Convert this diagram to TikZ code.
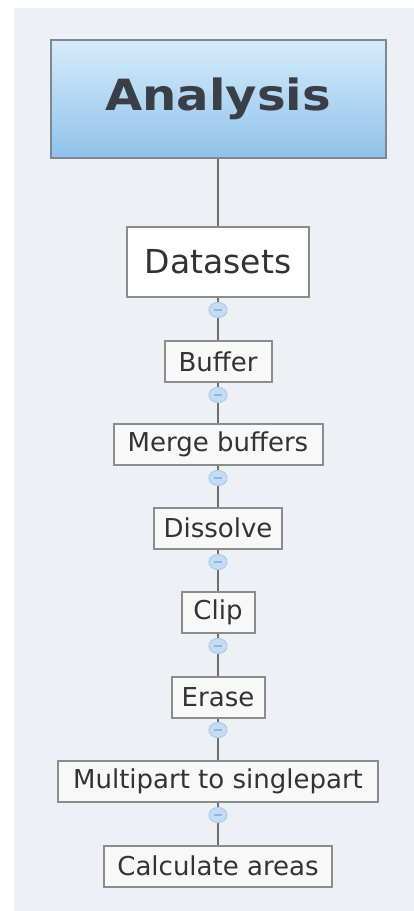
\documentclass[tikz,border=0pt]{standalone}
\usepackage{fontspec}
\setmainfont{DejaVu Sans}
\usetikzlibrary{shadings,shapes.geometric}
\definecolor{pagebg}{HTML}{EDF0F5}
\definecolor{boxline}{HTML}{8C8C8C}
\definecolor{boxfill}{HTML}{F8F8F8}
\definecolor{linkline}{HTML}{6E6E6E}
\definecolor{txt}{HTML}{333333}
\definecolor{roottxt}{HTML}{3A3F47}
\definecolor{roottop}{HTML}{D6ECFA}
\definecolor{rootbot}{HTML}{8FC2EA}
\definecolor{rootline}{HTML}{7D8894}
\definecolor{knobfill}{HTML}{C4DCF4}
\definecolor{knobline}{HTML}{B3CDEA}
\definecolor{knobmark}{HTML}{93B6DC}
\tikzset{
  rootbox/.style={draw=rootline, line width=2pt, top color=roottop, bottom color=rootbot,
    minimum width=335pt, minimum height=118pt, inner sep=0pt, text=roottxt},
  topicbox/.style={draw=boxline, line width=2pt, fill=white,
    minimum width=182pt, minimum height=70pt, inner sep=0pt, text=txt,
    font=\fontsize{33}{38}\selectfont},
  stepbox/.style={draw=boxline, line width=2pt, fill=boxfill,
    minimum height=41pt, inner sep=0pt, text=txt,
    font=\fontsize{26}{30}\selectfont},
  knob/.style={ellipse, draw=knobline, line width=1.2pt, fill=knobfill,
    minimum width=18pt, minimum height=15pt, inner sep=0pt},
  link/.style={draw=linkline, line width=1.6pt}
}
\begin{document}
\begin{tikzpicture}[x=1pt, y=-1pt]
  \useasboundingbox (0,0) rectangle (413,911);
  % page background, run past the page edge on the right and bottom
  \fill[white] (0,0) rectangle (440,940);
  \fill[pagebg] (14,8) rectangle (440,940);

  % nodes
  \node[rootbox] (analysis) at (218,99)
    {\scalebox{1.12}[1]{\fontsize{43}{48}\selectfont\bfseries Analysis}};
  \node[topicbox] (datasets) at (218,262) {Datasets};
  \node[stepbox, minimum width=107pt] (buffer)    at (218,361.5) {Buffer};
  \node[stepbox, minimum width=209pt] (merge)     at (218,444.5) {Merge buffers};
  \node[stepbox, minimum width=128pt] (dissolve)  at (218,528)   {Dissolve};
  \node[stepbox, minimum width=73pt]  (clip)      at (218,612.5) {Clip};
  \node[stepbox, minimum width=93pt]  (erase)     at (218,697)   {Erase};
  \node[stepbox, minimum width=320pt] (multipart) at (218,781.5) {Multipart to singlepart};
  \node[stepbox, minimum width=228pt] (calc)      at (218,866)   {Calculate areas};

  % connectors
  \draw[link] (analysis.south) -- (datasets.north);
  \draw[link] (datasets.south) -- (buffer.north);
  \draw[link] (buffer.south) -- (merge.north);
  \draw[link] (merge.south) -- (dissolve.north);
  \draw[link] (dissolve.south) -- (clip.north);
  \draw[link] (clip.south) -- (erase.north);
  \draw[link] (erase.south) -- (multipart.north);
  \draw[link] (multipart.south) -- (calc.north);

  % collapse knobs on the connectors
  \foreach \n/\ky in {k1/310, k2/395, k3/478, k4/562, k5/646, k6/730, k7/815} {
    \node[knob] (\n) at (218,\ky) {};
    \draw[knobmark, line width=1.2pt] ([xshift=-4pt]\n.center) -- ([xshift=4pt]\n.center);
  }
\end{tikzpicture}
\end{document}
